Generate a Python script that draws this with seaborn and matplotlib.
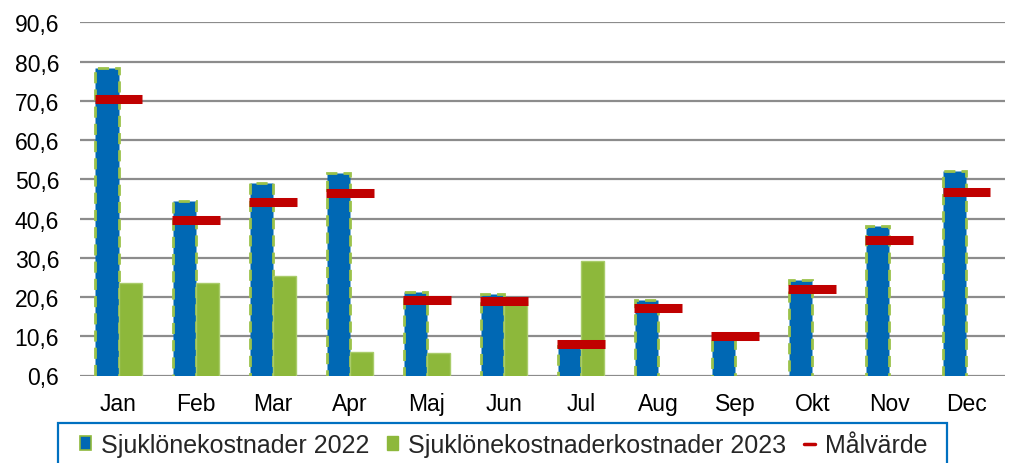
import numpy as np
import pandas as pd
import matplotlib
matplotlib.use("Agg")
import matplotlib.pyplot as plt
from matplotlib.patches import Patch, Rectangle
from matplotlib.lines import Line2D
import seaborn as sns

# DATA
months = ["Jan", "Feb", "Mar", "Apr", "Maj", "Jun", "Jul", "Aug", "Sep", "Okt", "Nov", "Dec"]
kost_2022 = [79.0, 45.1, 49.6, 52.3, 21.8, 21.3, 8.0, 19.9, 10.0, 24.9, 38.7, 52.7]
kost_2023 = [24.1, 24.1, 26.0, 6.6, 6.4, 19.6, 29.7, np.nan, np.nan, np.nan, np.nan, np.nan]
malvarde = [71.0, 40.3, 44.8, 47.0, 19.9, 19.5, 8.6, 17.9, 10.6, 22.7, 35.2, 47.3]
yticks = [0.6, 10.6, 20.6, 30.6, 40.6, 50.6, 60.6, 70.6, 80.6, 90.6]
ytick_labels = [f"{v:.1f}".replace(".", ",") for v in yticks]
series_names = ["Sjuklönekostnader 2022", "Sjuklönekostnaderkostnader 2023", "Målvärde"]

BLUE = "#0068B4"
GREEN = "#8DB83B"
RED = "#C00000"
GRID = "#8C8C8C"

df = pd.DataFrame({
    "month": months * 2,
    "value": kost_2022 + kost_2023,
    "serie": [series_names[0]] * 12 + [series_names[1]] * 12,
})

sns.set_style("white")
plt.rcParams["font.family"] = ["Liberation Sans", "DejaVu Sans"]

fig = plt.figure(figsize=(10.11, 4.64), dpi=100)
ax = fig.add_axes([80 / 1011, 1 - 376.5 / 464, 925 / 1011, (376.5 - 23.3) / 464])

sns.barplot(data=df, x="month", y="value", hue="serie", order=months,
            hue_order=series_names[:2], palette=[BLUE, GREEN], width=0.6,
            saturation=1, errorbar=None, legend=False, ax=ax, zorder=3)

# dashed green outline on 2022 bars, light solid edge on 2023
for bar in ax.containers[0]:
    bar.set_edgecolor("#9BC24A")
    bar.set_linestyle((0, (4, 2.2)))
    bar.set_linewidth(2.0)
for bar in ax.containers[1]:
    bar.set_edgecolor("#A9CC6A")
    bar.set_linewidth(1.0)

# target markers across each month group
xpos = np.arange(len(months))
ax.hlines(malvarde, xpos - 0.31, xpos + 0.31, colors=RED, linewidth=6.5, zorder=4)

ax.set_ylim(yticks[0], yticks[-1])
ax.set_xlim(-0.5, len(months) - 0.5)
ax.set_yticks(yticks)
ax.set_yticklabels(ytick_labels)
ax.yaxis.grid(True, color=GRID, linewidth=1.6)
ax.set_axisbelow(True)
for s in ax.spines.values():
    s.set_visible(False)
ax.set_xlabel("")
ax.set_ylabel("")
ax.tick_params(axis="x", length=0, pad=12, labelsize=16.5, colors="black")
ax.tick_params(axis="y", length=0, pad=15, labelsize=16.5, colors="black")

# legend box (partly below the figure edge, as in the original)
fig.patches.append(Rectangle((58 / 1011, -0.05), (947 - 58) / 1011, 0.05 + 40 / 464,
                             transform=fig.transFigure, fill=False,
                             edgecolor="#0070C0", linewidth=1.6))
handles = [
    Patch(facecolor=BLUE, edgecolor=GREEN, linewidth=1.2),
    Patch(facecolor=GREEN, edgecolor=GREEN),
    Line2D([0], [0], color=RED, linewidth=2.5),
]
fig.legend(handles, series_names, loc="upper left", bbox_to_anchor=(80 / 1011, 1 - 434 / 464),
           ncol=3, frameon=False, fontsize=18, handlelength=0.45, handleheight=0.45,
           handletextpad=0.4, columnspacing=0.7, borderpad=0, borderaxespad=0)

fig.savefig("out.png", dpi=100)
